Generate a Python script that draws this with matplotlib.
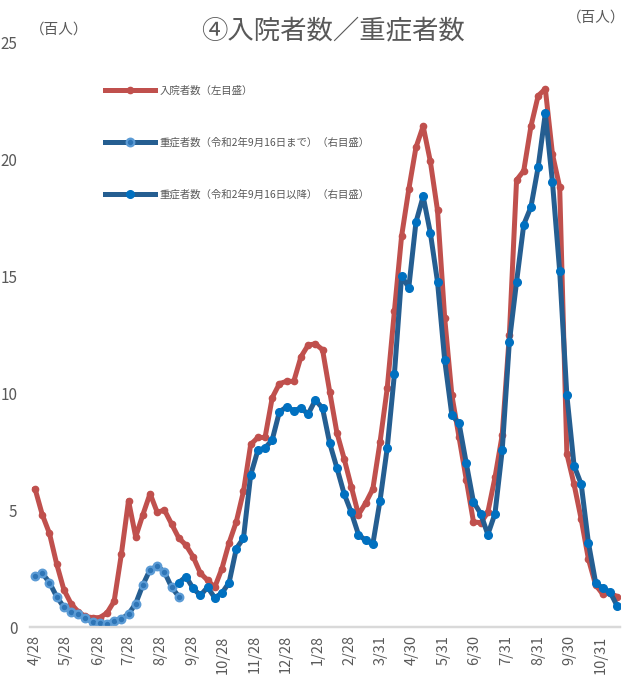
import matplotlib
matplotlib.use("Agg")
import matplotlib.pyplot as plt
import pandas as pd

plt.rcParams['font.family'] = ['Noto Sans CJK JP', 'DejaVu Sans']

# weekly values, hundreds of people, from 2020-04-28
hospitalized = [5.9, 4.8, 4.0, 2.7, 1.6, 1.0, 0.65, 0.45, 0.4, 0.4,
                0.6, 1.1, 3.1, 5.4, 3.85, 4.8, 5.7, 4.9, 5.0, 4.4,
                3.8, 3.5, 3.0, 2.3, 2.0, 1.7, 2.5, 3.6, 4.5, 5.8,
                7.8, 8.1, 8.1, 9.8, 10.4, 10.5, 10.5, 11.55, 12.05, 12.1,
                11.85, 10.05, 8.3, 7.2, 6.0, 4.8, 5.3, 5.9, 7.9, 10.2,
                13.5, 16.7, 18.7, 20.5, 21.4, 19.9, 17.8, 13.2, 9.9, 8.1,
                6.3, 4.5, 4.45, 4.9, 6.4, 8.2, 12.5, 19.1, 19.5, 21.4,
                22.7, 23.0, 20.2, 18.8, 7.4, 6.1, 4.6, 2.9, 1.8, 1.4,
                1.45, 1.3]

# severe cases, old definition (up to 2020-09-16)
severe_old = [2.2, 2.3, 1.9, 1.3, 0.85, 0.65, 0.55, 0.4, 0.2, 0.17,
              0.15, 0.27, 0.35, 0.55, 1.0, 1.8, 2.45, 2.6, 2.35, 1.7,
              1.3]

# severe cases, new definition (from 2020-09-16)
severe_new = [1.9, 2.15, 1.65, 1.35, 1.7, 1.25, 1.45, 1.9, 3.35,
              3.8, 6.5, 7.55, 7.65, 8.0, 9.2, 9.4, 9.25, 9.35, 9.1,
              9.7, 9.35, 7.85, 6.8, 5.7, 4.9, 3.95, 3.7, 3.55,
              5.4, 7.65, 10.8, 15.0, 14.5, 17.3, 18.4, 16.85, 14.75, 11.4,
              9.05, 8.7,
              7.0, 5.35, 4.85, 3.95, 4.85, 7.55, 12.2, 14.75, 17.2, 17.95,
              19.65, 21.95, 19.0, 15.2,
              9.9, 6.9, 6.1, 3.6, 1.9, 1.65, 1.5, 0.9]

tick_dates = ['2020-04-28', '2020-05-28', '2020-06-28', '2020-07-28', '2020-08-28',
              '2020-09-28', '2020-10-28', '2020-11-28', '2020-12-28', '2021-01-28',
              '2021-02-28', '2021-03-31', '2021-04-30', '2021-05-31', '2021-06-30',
              '2021-07-31', '2021-08-31', '2021-09-30', '2021-10-31']
tick_labels = ['4/28', '5/28', '6/28', '7/28', '8/28', '9/28', '10/28', '11/28', '12/28',
               '1/28', '2/28', '3/31', '4/30', '5/31', '6/30', '7/31', '8/31', '9/30', '10/31']

dates = pd.date_range('2020-04-28', periods=len(hospitalized), freq='7D')
dates_old = dates[:len(severe_old)]
dates_new = dates[len(severe_old) - 1:]

RED = '#C0504D'
NAVY = '#255E91'
LIGHT = '#5B9BD5'
BLUE = '#0070C0'
GREY = '#595959'

fig = plt.figure(figsize=(6.24, 6.91), dpi=100)
ax = fig.add_axes([0.048, 0.0926, 0.946, 0.8466])
ax2 = ax.twinx()

# hospitalised on the left scale, severe cases on the right scale
ax.plot(dates, hospitalized, color=RED, lw=3.6, marker='o', ms=4.5,
        mfc=RED, mec=RED, solid_joinstyle='round', label='入院者数（左目盛）')
ax2.plot(dates_old, severe_old, color=NAVY, lw=3.6, marker='o', ms=5.5,
         mfc='#2E75B6', mec=LIGHT, mew=1.6, solid_joinstyle='round',
         label='重症者数（令和2年9月16日まで）（右目盛）')
ax2.plot(dates_new, severe_new, color=NAVY, lw=3.6, marker='o', ms=5.5,
         mfc=BLUE, mec=BLUE, solid_joinstyle='round',
         label='重症者数（令和2年9月16日以降）（右目盛）')

for a in (ax, ax2):
    a.set_ylim(0, 25)
    a.set_xlim(dates[0] - pd.Timedelta(days=5), dates[-1] + pd.Timedelta(days=3))
    for s in ('left', 'right', 'top'):
        a.spines[s].set_visible(False)
    a.spines['bottom'].set_color('#D9D9D9')
    a.spines['bottom'].set_linewidth(1.6)

ax.set_yticks([0, 5, 10, 15, 20, 25])
ax.tick_params(axis='y', length=0, pad=9, labelsize=11, labelcolor=GREY)
ax2.set_yticks([])

ax.set_xticks(pd.to_datetime(tick_dates))
ax.set_xticklabels(tick_labels, rotation=90, fontsize=10.5, color=GREY)
ax.tick_params(axis='x', length=0, pad=6)

fig.text(0.534, 0.955, '④入院者数／重症者数', ha='center', va='center',
         fontsize=19, color=GREY)
fig.text(0.095, 0.957, '（百人）', ha='center', va='center', fontsize=10.5, color=GREY)
fig.text(0.955, 0.974, '（百人）', ha='center', va='center', fontsize=10.5, color=GREY)

h1, l1 = ax.get_legend_handles_labels()
h2, l2 = ax2.get_legend_handles_labels()
ax2.legend(h1 + h2, l1 + l2, loc='upper left',
           bbox_to_anchor=(100 / 624, 1 - 80 / 691), bbox_transform=fig.transFigure,
           frameon=False, fontsize=7.5, labelspacing=4.0, handlelength=4.8,
           handletextpad=0.4, borderpad=0, numpoints=1, labelcolor=GREY)

fig.savefig('out.png', dpi=100)
